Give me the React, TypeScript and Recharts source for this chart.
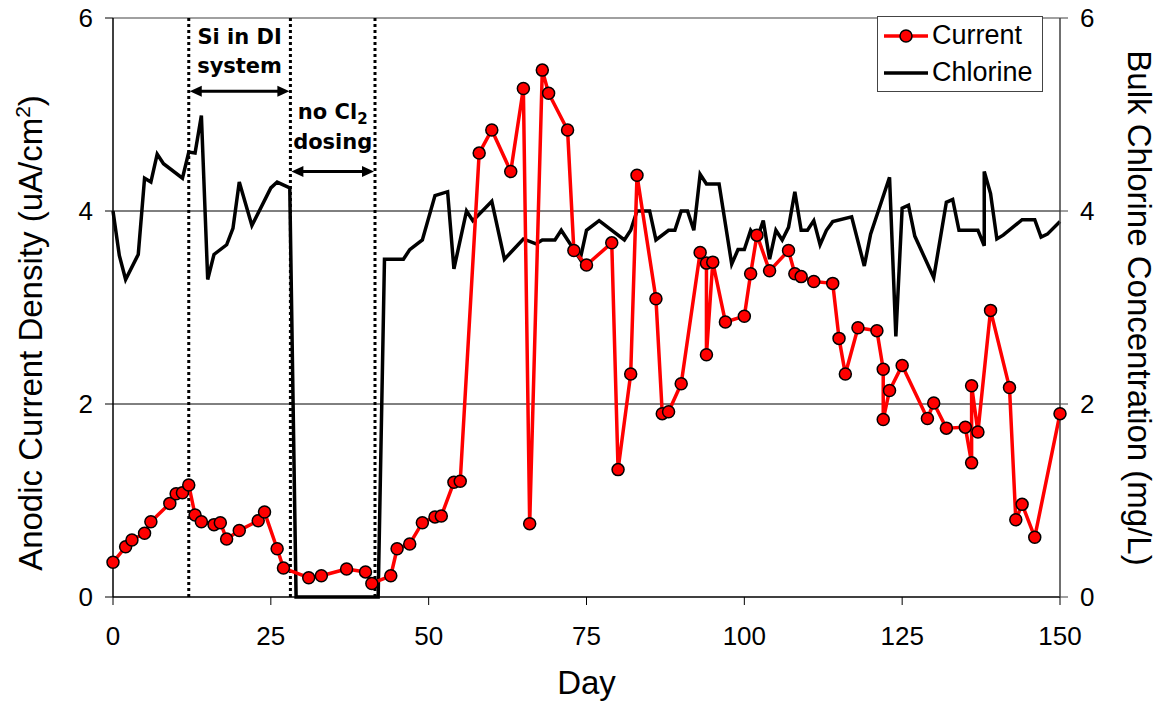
import React from 'react';
import { ComposedChart, Line, XAxis, YAxis, ReferenceLine, Legend } from 'recharts';

// Anodic current density (uA/cm2) readings
const currentDays = [
  0, 2, 3, 5, 6, 9, 10, 11, 12, 13, 14, 16, 17, 18, 20, 23, 24, 26, 27, 31,
  33, 37, 40, 41, 44, 45, 47, 49, 51, 52, 54, 55, 58, 60, 63, 65, 66, 68, 69, 72,
  73, 75, 79, 80, 82, 83, 86, 87, 88, 90, 93, 94, 94, 95, 97, 100, 101, 102, 104, 107,
  108, 109, 111, 114, 115, 116, 118, 121, 122, 122, 123, 125, 129, 130, 132, 135, 136, 136, 137, 139,
  142, 143, 144, 146, 150,
];
const currentValues = [
  0.36, 0.52, 0.59, 0.66, 0.78, 0.97, 1.07, 1.08, 1.16, 0.85, 0.78, 0.75, 0.77, 0.6, 0.69, 0.79, 0.88, 0.5, 0.3, 0.2,
  0.22, 0.29, 0.26, 0.14, 0.22, 0.5, 0.55, 0.77, 0.83, 0.84, 1.19, 1.2, 4.6, 4.84, 4.41, 5.27, 0.76, 5.46, 5.22, 4.84,
  3.59, 3.44, 3.67, 1.32, 2.31, 4.37, 3.09, 1.9, 1.92, 2.21, 3.57, 3.46, 2.51, 3.47, 2.85, 2.91, 3.35, 3.75, 3.38, 3.59,
  3.35, 3.32, 3.27, 3.25, 2.68, 2.31, 2.79, 2.76, 2.36, 1.84, 2.14, 2.4, 1.85, 2.01, 1.75, 1.76, 1.39, 2.19, 1.71, 2.97,
  2.17, 0.8, 0.96, 0.62, 1.9,
];

// Bulk chlorine concentration (mg/L) readings
const chlorineDays = [
  0, 1, 2, 4, 5, 6, 7, 8, 11, 12, 13, 14, 15, 16, 18, 19, 20, 22, 25, 26,
  28, 29, 42, 43, 46, 47, 49, 51, 53, 54, 56, 57, 60, 62, 65, 67, 68, 70, 71, 74,
  75, 77, 81, 82, 83, 85, 86, 88, 89, 90, 91, 92, 93, 94, 96, 98, 99, 100, 101, 102,
  103, 104, 105, 106, 107, 108, 109, 110, 111, 112, 113, 114, 117, 119, 120, 123, 124, 125, 126, 127,
  130, 132, 133, 134, 137, 138, 138, 139, 140, 141, 144, 146, 147, 148, 150,
];
const chlorineValues = [
  4.0, 3.54, 3.29, 3.55, 4.34, 4.3, 4.59, 4.49, 4.34, 4.61, 4.6, 4.99, 3.29, 3.55, 3.65, 3.82, 4.3, 3.85, 4.24, 4.3,
  4.24, 0, 0, 3.5, 3.5, 3.6, 3.7, 4.16, 4.2, 3.4, 4.0, 3.9, 4.1, 3.5, 3.71, 3.66, 3.7, 3.7, 3.8, 3.5,
  3.8, 3.9, 3.7, 3.8, 4.0, 4.0, 3.7, 3.8, 3.8, 4.0, 4.0, 3.8, 4.38, 4.28, 4.28, 3.45, 3.6, 3.6, 3.8, 3.71,
  3.9, 3.5, 3.8, 3.7, 3.83, 4.2, 3.8, 3.8, 3.9, 3.65, 3.8, 3.89, 3.94, 3.43, 3.76, 4.35, 2.7, 4.03, 4.06, 3.74,
  3.31, 4.09, 4.12, 3.8, 3.8, 3.64, 4.41, 4.18, 3.71, 3.75, 3.91, 3.91, 3.73, 3.76, 3.89,
];

const dayTicks = [0, 25, 50, 75, 100, 125, 150];
const valueTicks = [0, 2, 4, 6];
const gridValues = [2, 4];

// Day boundaries of the two test periods (dotted lines)
const periodEdges = [12, 28.1, 41.5];

const currentData = currentDays.map((day, i) => ({ day, current: currentValues[i] }));
const chlorineData = chlorineDays.map((day, i) => ({ day, chlorine: chlorineValues[i] }));

const FONT = "'Liberation Sans', Arial, sans-serif";
const NOTE_FONT = "'DejaVu Sans', Verdana, sans-serif";

// Period annotations: arrow between two edges, text lines above it
const notes = [
  { id: 'si', from: 12, to: 28.1, level: 5.24, text: [{ main: 'Si in DI' }, { main: 'system' }], offsets: [-47, -18] },
  { id: 'cl', from: 28.1, to: 41.5, level: 4.41, text: [{ main: 'no Cl', sub: '2' }, { main: 'dosing' }], offsets: [-52, -22] },
];

const ArrowNote = (props: any) => {
  const { x1, y1, x2, note } = props;
  const head = 12;
  const half = 5.5;
  const left = x1 + 1;
  const right = x2 - 1;
  const cx = (x1 + x2) / 2;
  return (
    <g>
      <line x1={left + head - 2} y1={y1} x2={right - head + 2} y2={y1} stroke="#000" strokeWidth={3} />
      <polygon points={`${left},${y1} ${left + head},${y1 - half} ${left + head},${y1 + half}`} fill="#000" />
      <polygon points={`${right},${y1} ${right - head},${y1 - half} ${right - head},${y1 + half}`} fill="#000" />
      {note.text.map((t: any, i: number) => (
        <text
          key={i}
          x={cx}
          y={y1 + note.offsets[i]}
          textAnchor="middle"
          fontFamily={NOTE_FONT}
          fontWeight="bold"
          fontSize={21}
          fill="#000"
        >
          <tspan>{t.main}</tspan>
          {t.sub && (
            <tspan fontSize={15} dy={5}>
              {t.sub}
            </tspan>
          )}
        </text>
      ))}
    </g>
  );
};

const seriesInfo = [
  { name: 'Current', color: '#FF0000', dot: true },
  { name: 'Chlorine', color: '#000000', dot: false },
];

const LegendBox = () => (
  <div
    style={{
      width: 166,
      height: 76,
      boxSizing: 'border-box',
      border: '1px solid #444',
      background: '#fff',
      fontFamily: FONT,
      fontSize: 27,
      color: '#000',
    }}
  >
    {seriesInfo.map((s) => (
      <div key={s.name} style={{ display: 'flex', alignItems: 'center', height: 37 }}>
        <svg width={54} height={20} style={{ flex: 'none' }}>
          <line x1={6} y1={10} x2={50} y2={10} stroke={s.color} strokeWidth={3.5} />
          {s.dot && <circle cx={28} cy={10} r={6} fill="#FF0000" stroke="#000" strokeWidth={1.5} />}
        </svg>
        <span style={{ lineHeight: 1 }}>{s.name}</span>
      </div>
    ))}
  </div>
);

const tickStyle = { fontSize: 26, fill: '#000', fontFamily: FONT };

const App: React.FC = () => {
  return (
    <div style={{ position: 'absolute', left: 0, top: 0, width: 1161, height: 702, background: '#fff' }}>
      <ComposedChart width={1161} height={702} margin={{ top: 18, right: 21, bottom: 15, left: 33 }}>
        <XAxis
          type="number"
          dataKey="day"
          domain={[0, 150]}
          ticks={dayTicks}
          height={90}
          axisLine={{ stroke: '#000', strokeWidth: 1.5 }}
          tickLine={{ stroke: '#000' }}
          tickSize={8}
          tickMargin={22}
          tick={tickStyle}
          label={{
            content: (p: any) => {
              const vb = p.viewBox;
              return (
                <text x={vb.x + vb.width / 2} y={vb.y + 97} textAnchor="middle" fontFamily={FONT} fontSize={33} fill="#000">
                  Day
                </text>
              );
            },
          }}
        />
        <YAxis
          yAxisId="left"
          domain={[0, 6]}
          ticks={valueTicks}
          width={80}
          axisLine={{ stroke: '#000', strokeWidth: 1.5 }}
          tickLine={{ stroke: '#000' }}
          tickSize={8}
          tickMargin={12}
          tick={tickStyle}
          label={{
            content: () => (
              <text x={42} y={333} transform="rotate(-90, 42, 333)" textAnchor="middle" fontFamily={FONT} fontSize={33} fill="#000">
                Anodic Current Density (uA/cm
                <tspan fontSize={21} dy={-12}>2</tspan>
                <tspan dy={12}>)</tspan>
              </text>
            ),
          }}
        />
        <YAxis
          yAxisId="right"
          orientation="right"
          domain={[0, 6]}
          ticks={valueTicks}
          width={80}
          axisLine={{ stroke: '#404040', strokeWidth: 1.5 }}
          tickLine={{ stroke: '#404040' }}
          tickSize={8}
          tickMargin={12}
          tick={tickStyle}
          label={{
            content: () => (
              <text x={1128} y={308} transform="rotate(90, 1128, 308)" textAnchor="middle" fontFamily={FONT} fontSize={33} fill="#000">
                Bulk Chlorine Concentration (mg/L)
              </text>
            ),
          }}
        />

        {gridValues.map((v) => (
          <ReferenceLine key={'g' + v} yAxisId="left" y={v} stroke="#000" strokeWidth={1} />
        ))}
        <ReferenceLine yAxisId="left" y={6} stroke="#808080" strokeWidth={1.5} />

        {periodEdges.map((d) => (
          <ReferenceLine key={'p' + d} yAxisId="left" x={d} stroke="#000" strokeWidth={3} strokeDasharray="3 3" />
        ))}

        {notes.map((n) => (
          <ReferenceLine
            key={n.id}
            yAxisId="left"
            segment={[
              { x: n.from, y: n.level },
              { x: n.to, y: n.level },
            ]}
            shape={(p: any) => <ArrowNote {...p} note={n} />}
          />
        ))}

        <Line
          yAxisId="right"
          data={chlorineData}
          dataKey="chlorine"
          name="Chlorine"
          type="linear"
          stroke="#000"
          strokeWidth={3.5}
          dot={false}
          activeDot={false}
          isAnimationActive={false}
        />
        <Line
          yAxisId="left"
          data={currentData}
          dataKey="current"
          name="Current"
          type="linear"
          stroke="#FF0000"
          strokeWidth={3.5}
          strokeLinejoin="round"
          dot={{ r: 6, fill: '#FF0000', stroke: '#000', strokeWidth: 1.5 }}
          activeDot={false}
          isAnimationActive={false}
        />

        <Legend
          layout="vertical"
          align="center"
          verticalAlign="middle"
          wrapperStyle={{ left: 877, top: 16, width: 166, height: 76 }}
          content={() => <LegendBox />}
        />
      </ComposedChart>
    </div>
  );
};

export default App;
